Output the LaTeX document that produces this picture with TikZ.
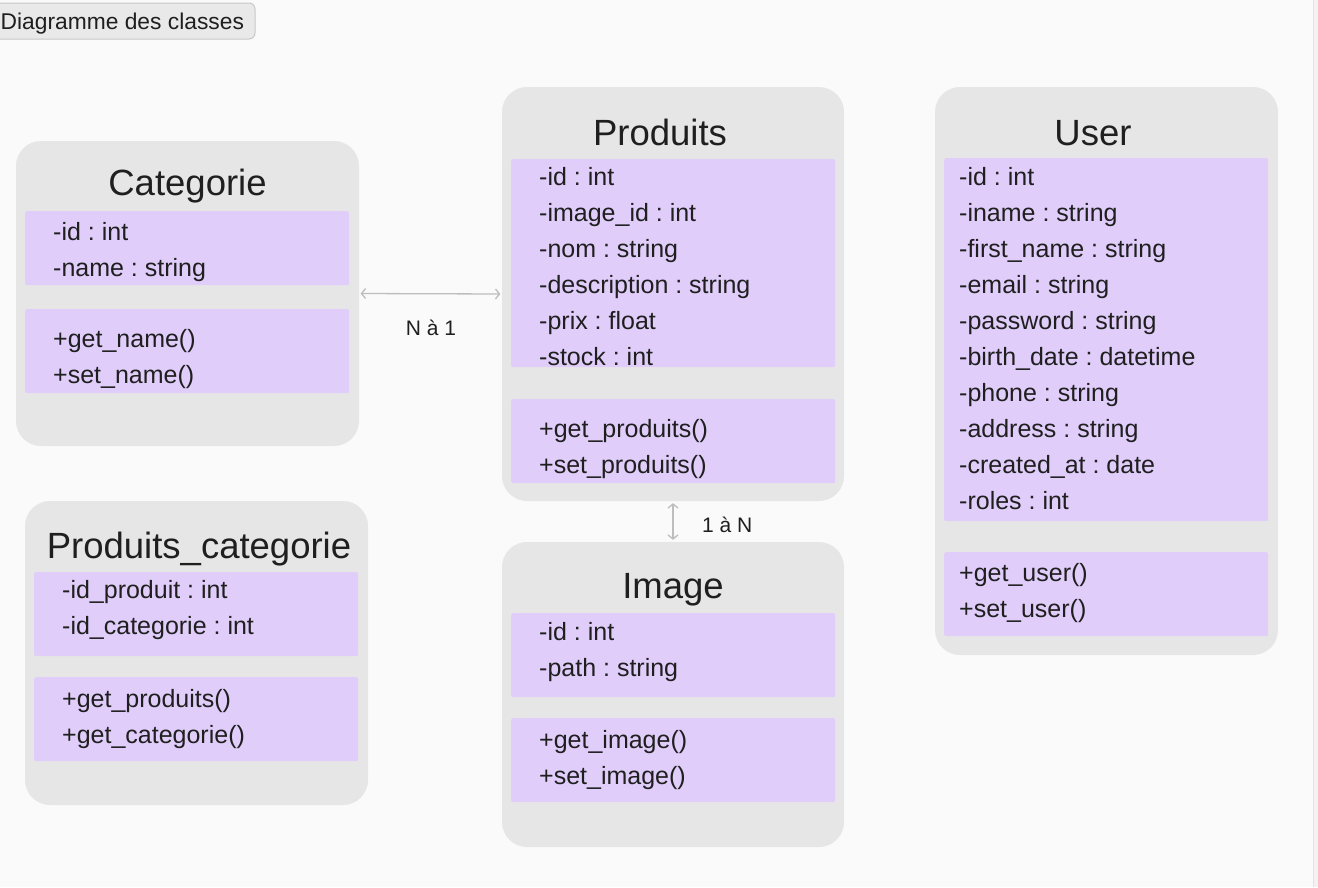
\documentclass[tikz,border=0pt]{standalone}
\usepackage{fontspec}
\setmainfont{Liberation Sans}
\usetikzlibrary{arrows.meta}
\frenchspacing
\definecolor{bg}{HTML}{FAFAFA}
\definecolor{boxgray}{HTML}{E6E6E6}
\definecolor{lilac}{HTML}{E0CDFA}
\definecolor{ink}{HTML}{1F1F1F}
\definecolor{linkgray}{HTML}{BDBDBD}
\definecolor{btnfill}{HTML}{E9E9E9}
\definecolor{btnline}{HTML}{C8C8C8}
\tikzset{
  classbox/.style={draw=none, fill=boxgray, rounded corners=25pt, inner sep=0pt},
  panel/.style={draw=none, fill=lilac, rounded corners=2pt, inner sep=0pt, anchor=north west},
  ctitle/.style={anchor=base, inner sep=0pt, text=ink, font=\fontsize{36.5}{40}\selectfont},
  member/.style={anchor=base west, inner sep=0pt, text=ink, font=\fontsize{25}{29}\selectfont},
  rellabel/.style={inner sep=0pt, text=ink, font=\fontsize{21}{25}\selectfont},
  rel/.style={draw=linkgray, line width=1.3pt, {Straight Barb[length=4pt,width=10pt]}-{Straight Barb[length=4pt,width=10pt]}},
  btn/.style={draw=btnline, fill=btnfill, line width=1pt, rounded corners=6pt, inner sep=0pt},
}
\begin{document}
\begin{tikzpicture}[x=1pt,y=-1pt]
\useasboundingbox (0,0) rectangle (1318,887);
\fill[bg] (0,0) rectangle (1318,887);
\fill[white!95!black] (1314,0) rectangle (1318,887);
\draw[white!89!black, line width=1pt] (1313.5,0) -- (1313.5,887);

% button
\node[btn, minimum width=265pt, minimum height=36pt] (btn) at (122.5,21) {};
\node[anchor=base west, inner sep=0pt, text=ink, font=\fontsize{22.8}{27}\selectfont] (btntext) at (0.5,29) {Diagramme des classes};

% Categorie
\node[classbox, minimum width=343pt, minimum height=305pt] (cat) at (187.5,293.5) {};
\node[ctitle] (catT) at (187.5,195) {Categorie};
\node[panel, minimum width=324pt, minimum height=74pt] (catA) at (25,211) {};
\node[panel, minimum width=324pt, minimum height=84pt] (catM) at (25,309) {};
\node[member] (cat1) at (53,240) {-id : int};
\node[member] (cat2) at (53,276) {-name : string};
\node[member] (cat3) at (53,347) {+get\_name()};
\node[member] (cat4) at (53,383) {+set\_name()};

% Produits
\node[classbox, minimum width=342pt, minimum height=414pt] (prod) at (673,294) {};
\node[ctitle] (prodT) at (660,145) {Produits};
\node[panel, minimum width=324pt, minimum height=208pt] (prodA) at (511,159) {};
\node[panel, minimum width=324pt, minimum height=84pt] (prodM) at (511,399) {};
\node[member] (prod1) at (539,185) {-id : int};
\node[member] (prod2) at (539,221) {-image\_id : int};
\node[member] (prod3) at (539,257) {-nom : string};
\node[member] (prod4) at (539,293) {-description : string};
\node[member] (prod5) at (539,329) {-prix : float};
\node[member] (prod6) at (539,365) {-stock : int};
\node[member] (prod7) at (539,437) {+get\_produits()};
\node[member] (prod8) at (539,473) {+set\_produits()};

% User
\node[classbox, minimum width=343pt, minimum height=568pt] (user) at (1106.5,371) {};
\node[ctitle] (userT) at (1093,145) {User};
\node[panel, minimum width=324pt, minimum height=363pt] (userA) at (944,158) {};
\node[panel, minimum width=324pt, minimum height=84pt] (userM) at (944,552) {};
\node[member] (user1) at (959,185) {-id : int};
\node[member] (user2) at (959,221) {-iname : string};
\node[member] (user3) at (959,257) {-first\_name : string};
\node[member] (user4) at (959,293) {-email : string};
\node[member] (user5) at (959,329) {-password : string};
\node[member] (user6) at (959,365) {-birth\_date : datetime};
\node[member] (user7) at (959,401) {-phone : string};
\node[member] (user8) at (959,437) {-address : string};
\node[member] (user9) at (959,473) {-created\_at : date};
\node[member] (user10) at (959,509) {-roles : int};
\node[member] (user11) at (959,581) {+get\_user()};
\node[member] (user12) at (959,617) {+set\_user()};

% Produits_categorie
\node[classbox, minimum width=343pt, minimum height=304pt] (pc) at (196.5,653) {};
\node[ctitle] (pcT) at (199,558) {Produits\_categorie};
\node[panel, minimum width=324pt, minimum height=84pt] (pcA) at (34,572) {};
\node[panel, minimum width=324pt, minimum height=84pt] (pcM) at (34,677) {};
\node[member] (pc1) at (62,598) {-id\_produit : int};
\node[member] (pc2) at (62,634) {-id\_categorie : int};
\node[member] (pc3) at (62,707) {+get\_produits()};
\node[member] (pc4) at (62,743) {+get\_categorie()};

% Image
\node[classbox, minimum width=342pt, minimum height=305pt] (img) at (673,694.5) {};
\node[ctitle] (imgT) at (673,598) {Image};
\node[panel, minimum width=324pt, minimum height=84pt] (imgA) at (511,613) {};
\node[panel, minimum width=324pt, minimum height=84pt] (imgM) at (511,718) {};
\node[member] (img1) at (539,640) {-id : int};
\node[member] (img2) at (539,676) {-path : string};
\node[member] (img3) at (539,748) {+get\_image()};
\node[member] (img4) at (539,784) {+set\_image()};

% relations
\draw[rel, shorten <=1.5pt, shorten >=1.5pt] (cat.east) -- (prod.west);
\node[rellabel, anchor=base] (l1) at (431,335) {N à 1};
\draw[rel, shorten <=2pt, shorten >=2pt] (prod.south) -- (img.north);
\node[rellabel, anchor=base west] (l2) at (702,532) {1 à N};
\end{tikzpicture}
\end{document}
